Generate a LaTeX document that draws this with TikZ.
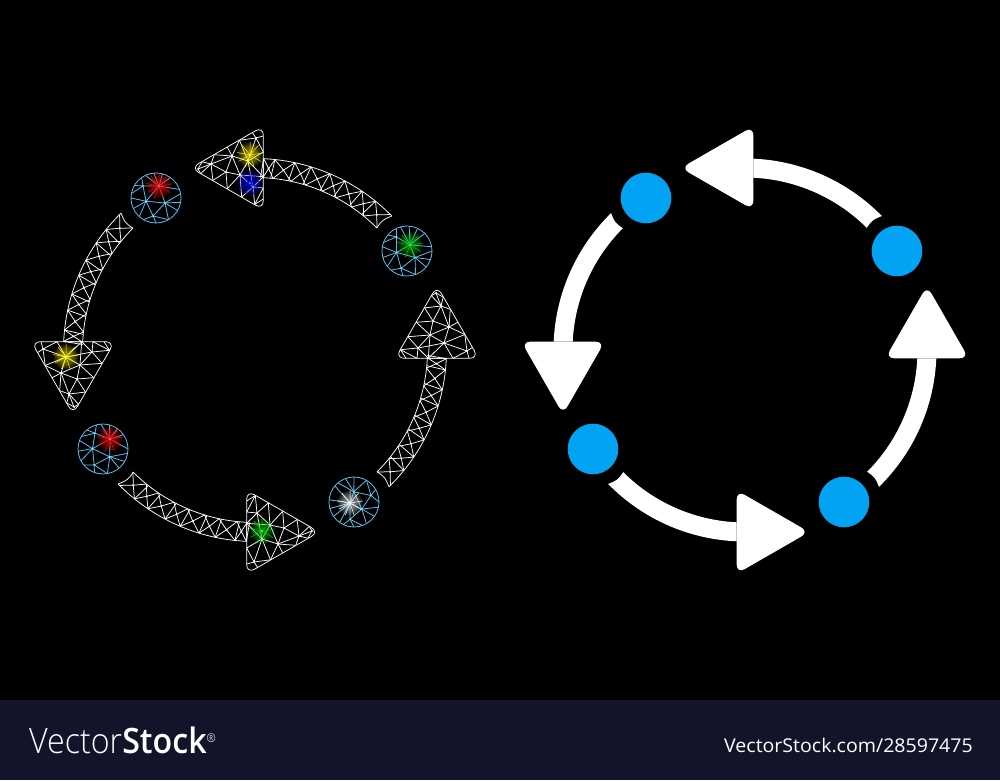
\documentclass[tikz,border=0pt]{standalone}
\usepackage{fontspec}
\setmainfont{Open Sans}
\newfontfamily\logolight{Open Sans Light}
\newfontfamily\logosemi{Open Sans Semibold}
\definecolor{bandblue}{HTML}{12152A}
\definecolor{dotblue}{HTML}{03A3F4}
\definecolor{dotline}{HTML}{5CBDEB}
\tikzstyle{meshline}=[draw=white,line width=0.75pt,line join=round]
\tikzstyle{dotmesh}=[draw=dotline,line width=0.8pt]
\tikzstyle{solid icon}=[fill=white]
\tikzstyle{credit}=[anchor=base west,inner sep=0pt,text=white]
\newcommand{\headpath}{(-223.7,8.3) -- (-140.3,8.3) -- (-182,-64.2) -- cycle}
\newcommand{\shaftpath}{(177.5:191.5) arc[start angle=177.5,end angle=134.4,radius=191.5] .. controls (135.6:182) .. (135.1:172.5) arc[start angle=135.1,end angle=177.24,radius=172.5] -- cycle}
\newcommand{\glow}[3]{%
\foreach \ra in {0,40,...,320} \draw[#3,line width=0.5pt] (#1,#2) -- ++(\ra+9:13);
\foreach \rr in {2,3.5,...,12.5} \fill[#3,opacity=0.11] (#1,#2) circle (\rr);
\fill[#3!55!white] (#1,#2) circle (1.2);}
\begin{document}
\begin{tikzpicture}[x=1pt,y=1pt]
\useasboundingbox (0,0) rectangle (1000,780);
\fill[black] (0,0) rectangle (1000,780);
\fill[bandblue] (0,0) rectangle (1000,80);
\foreach \rot in {0,90,180,270} {
\begin{scope}[shift={(745,430)},rotate=\rot]
\fill[solid icon,rounded corners=9pt] \headpath;
\fill[solid icon] \shaftpath;
\end{scope}
\begin{scope}[shift={(255,430)},rotate=\rot]
\draw[meshline,rounded corners=9pt] \headpath;
\draw[meshline] \shaftpath;
\foreach \ca/\cw in {138/3,143.5/2.5,149/3,154.5/2.5,160/3,165.5/2.5,171/3,175.7/1.7} {
\draw[meshline] (\ca-\cw:191.5) -- (\ca:182) -- (\ca+\cw:191.5) (\ca-\cw:172.5) -- (\ca:182) -- (\ca+\cw:172.5) (\ca+\cw:191.5) -- (\ca+\cw+0.8:172.5);
\fill[white] (\ca:182) circle (1);
}
\foreach \n/\x/\y in {a/-212/1,b/-189/-7,d/-163/-2,e/-175/-15,f/-194/-23,g/-178/-29,h/-186/-44,i/-181/-57,
b1/-214/8.3,b2/-198/8.3,b3/-173.3/8.3,b4/-162/8.3,b5/-151/8.3,
l1/-217.3/-2.5,l2/-209.8/-15.5,l3/-202.8/-27.7,l4/-195.3/-40.7,l5/-188.2/-52.9,
r1/-145.5/-0.3,r2/-153/-13.3,r3/-161.3/-27.7,r4/-169.6/-42.1,r5/-176.4/-54.3}
\coordinate (\n) at (\x,\y);
\foreach \p/\q in {a/b1,a/l1,a/b2,a/b,a/l2,b/b2,b/b3,b/d,b/e,b/f,b/l2,f/l2,f/l3,f/e,f/g,f/l4,f/h,e/d,e/b3,e/g,e/r3,d/b3,d/b4,d/r1,d/r2,e/r2,g/r3,g/r4,g/h,h/r4,h/l4,h/l5,h/i,h/r5,i/l5,i/r5,b4/r1,b5/r1}
\draw[meshline] (\p) -- (\q);
\foreach \n in {a,b,d,e,f,g,h,i} \fill[white] (\n) circle (1);
\end{scope}
}
\foreach \px/\py/\gx/\gy/\rot in {156/582/3/12/0,407/529/3/6/-10,103/331/7/10/-20,354/278/-4/-1/120} {
\fill[dotblue] (\px+490,\py) circle (25.3);
\begin{scope}[shift={(\px,\py)}]
\draw[dotmesh] (0,0) circle (25);
\coordinate (v1) at (\gx,\gy);
\foreach \n/\ang/\rad in {v2/137/17.7,v3/198/10.5,v4/331/10.3,v5/261/18.2}
\coordinate (\n) at (\ang+\rot:\rad);
\draw[dotmesh] (v1) -- (v2) -- (v3) -- (v1) -- (v4) -- (v3) -- (v5) -- (v4);
\foreach \p/\ang in {v1/115,v1/95,v1/75,v1/55,v1/20,v2/170,v2/150,v2/125,v3/180,v3/205,v3/228,v5/240,v5/270,v5/300,v4/300,v4/330,v4/350,v4/10}
\draw[dotmesh] (\p) -- (\ang+\rot:25);
\foreach \n in {v2,v3,v4,v5} \fill[dotline!60!white] (\n) circle (1);
\end{scope}
}
\glow{66}{423}{yellow}
\glow{250}{625}{yellow}
\glow{250}{597}{blue}
\glow{262}{249}{green!80!black}
\glow{159}{594}{red}
\glow{410}{535}{green!80!black}
\glow{110}{341}{red}
\glow{350}{277}{white}
\node[credit,xscale=0.92] (logo) at (29,27) {\fontsize{35}{35}\selectfont{\logolight Vector}{\logosemi Stock}\raisebox{11pt}{\logolight\fontsize{12}{12}\selectfont ®}};
\node[credit,xscale=1.03] (ref) at (724,28) {\fontsize{19}{19}\selectfont VectorStock.com/28597475};
\end{tikzpicture}
\end{document}
